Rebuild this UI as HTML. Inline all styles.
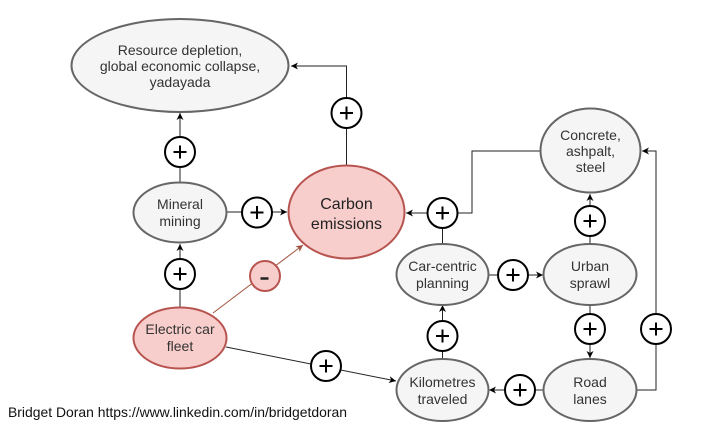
<!DOCTYPE html>
<html>
<head>
<meta charset="utf-8">
<style>
html,body{margin:0;padding:0;background:#fff;}
svg{display:block;}
text{font-family:"Liberation Sans",Arial,sans-serif;}
</style>
</head>
<body>
<svg width="721" height="425" viewBox="0 0 721 425" xmlns="http://www.w3.org/2000/svg">
<defs>
<marker id="ah" markerWidth="8" markerHeight="8" refX="7" refY="4" orient="auto" markerUnits="userSpaceOnUse">
<path d="M0,0.5 L7,4 L0,7.5 L2,4 Z" fill="#000"/>
</marker>
<marker id="ahr" markerWidth="8" markerHeight="8" refX="7" refY="4" orient="auto" markerUnits="userSpaceOnUse">
<path d="M0,0.5 L7,4 L0,7.5 L2,4 Z" fill="#a0523d"/>
</marker>
</defs>

<!-- connectors -->
<g fill="none" stroke="#222" stroke-width="1">
  <!-- carbon -> resource -->
  <polyline points="346.5,165 346.5,66 291,66" marker-end="url(#ah)"/>
  <!-- mineral -> resource -->
  <line x1="180" y1="182" x2="180" y2="113" marker-end="url(#ah)"/>
  <!-- mineral -> carbon -->
  <line x1="227" y1="212" x2="287" y2="212" marker-end="url(#ah)"/>
  <!-- electric -> mineral -->
  <line x1="180" y1="307" x2="180" y2="244" marker-end="url(#ah)"/>
  <!-- electric -> km -->
  <line x1="226" y1="347" x2="396" y2="381" marker-end="url(#ah)"/>
  <!-- concrete -> carbon -->
  <polyline points="540,151 472,151 472,213 406,213" marker-end="url(#ah)"/>
  <!-- car-centric -> (plus at 443,213) -->
  <line x1="442.5" y1="244" x2="442.5" y2="213"/>
  <!-- car-centric -> urban -->
  <line x1="489" y1="275" x2="543" y2="275" marker-end="url(#ah)"/>
  <!-- urban -> concrete -->
  <line x1="590" y1="243" x2="590" y2="194" marker-end="url(#ah)"/>
  <!-- urban -> road -->
  <line x1="590" y1="305" x2="590" y2="358" marker-end="url(#ah)"/>
  <!-- road -> concrete loop -->
  <polyline points="637,390 656,390 656,151 642,151" marker-end="url(#ah)"/>
  <!-- road -> km -->
  <line x1="543" y1="390" x2="489" y2="390" marker-end="url(#ah)"/>
  <!-- km -> car-centric -->
  <line x1="442.5" y1="359" x2="442.5" y2="305" marker-end="url(#ah)"/>
</g>
<!-- electric -> carbon (negative) -->
<line x1="213" y1="313" x2="303" y2="245" stroke="#a0523d" stroke-width="1" marker-end="url(#ahr)"/>

<!-- nodes -->
<g stroke-width="2">
  <ellipse cx="180" cy="65.5" rx="108.5" ry="46.5" fill="#f5f5f5" stroke="#666"/>
  <ellipse cx="180" cy="212.5" rx="46.5" ry="30" fill="#f5f5f5" stroke="#666"/>
  <ellipse cx="346.5" cy="212" rx="58" ry="46.5" fill="#f8cecc" stroke="#b85450"/>
  <ellipse cx="180" cy="338" rx="46.5" ry="30.5" fill="#f8cecc" stroke="#b85450"/>
  <ellipse cx="590.5" cy="150.5" rx="50" ry="42" fill="#f5f5f5" stroke="#666"/>
  <ellipse cx="442.5" cy="274.5" rx="46" ry="30.5" fill="#f5f5f5" stroke="#666"/>
  <ellipse cx="590" cy="274.5" rx="46.5" ry="30.5" fill="#f5f5f5" stroke="#666"/>
  <ellipse cx="442.5" cy="390" rx="46" ry="31" fill="#f5f5f5" stroke="#666"/>
  <ellipse cx="590" cy="390" rx="46.5" ry="31" fill="#f5f5f5" stroke="#666"/>
</g>

<!-- labels -->
<g fill="#333" font-size="14" text-anchor="middle">
  <text x="180" y="55">Resource depletion,</text>
  <text x="180" y="71">global economic collapse,</text>
  <text x="180" y="87">yadayada</text>
  <text x="180" y="209">Mineral</text>
  <text x="180" y="226">mining</text>
  <text x="180" y="334">Electric car</text>
  <text x="180" y="351">fleet</text>
  <text x="590.5" y="140">Concrete,</text>
  <text x="590.5" y="156">ashpalt,</text>
  <text x="590.5" y="172">steel</text>
  <text x="442.5" y="271">Car-centric</text>
  <text x="442.5" y="288">planning</text>
  <text x="590" y="271">Urban</text>
  <text x="590" y="288">sprawl</text>
  <text x="442.5" y="387">Kilometres</text>
  <text x="442.5" y="404">traveled</text>
  <text x="590" y="387">Road</text>
  <text x="590" y="404">lanes</text>
</g>
<g fill="#222" font-size="16" text-anchor="middle">
  <text x="346.5" y="209">Carbon</text>
  <text x="346.5" y="229">emissions</text>
</g>

<!-- plus circles -->
<g fill="#fff" stroke="#000" stroke-width="2">
  <circle cx="346.5" cy="113" r="15"/>
  <circle cx="180" cy="152" r="15"/>
  <circle cx="257" cy="212.5" r="15"/>
  <circle cx="180" cy="274" r="15"/>
  <circle cx="326" cy="366" r="15"/>
  <circle cx="442.5" cy="213" r="15"/>
  <circle cx="513" cy="275" r="15"/>
  <circle cx="590" cy="221" r="15"/>
  <circle cx="590" cy="329" r="15"/>
  <circle cx="656" cy="329" r="15"/>
  <circle cx="442.5" cy="336" r="15"/>
  <circle cx="520" cy="390" r="15"/>
</g>
<g stroke="#000" stroke-width="2" fill="none">
  <path d="M340,113h13M346.5,106.5v13"/>
  <path d="M173.5,152h13M180,145.5v13"/>
  <path d="M250.5,212.5h13M257,206v13"/>
  <path d="M173.5,274h13M180,267.5v13"/>
  <path d="M319.5,366h13M326,359.5v13"/>
  <path d="M436,213h13M442.5,206.5v13"/>
  <path d="M506.5,275h13M513,268.5v13"/>
  <path d="M583.5,221h13M590,214.5v13"/>
  <path d="M583.5,329h13M590,322.5v13"/>
  <path d="M649.5,329h13M656,322.5v13"/>
  <path d="M436,336h13M442.5,329.5v13"/>
  <path d="M513.5,390h13M520,383.5v13"/>
</g>

<!-- minus circle -->
<circle cx="265" cy="276" r="15" fill="#f8cecc" stroke="#b85450" stroke-width="2"/>
<line x1="260.5" y1="278.5" x2="268.5" y2="278.5" stroke="#222" stroke-width="2.5"/>

<!-- footer -->
<text x="8" y="417" font-size="14" fill="#111" textLength="339" lengthAdjust="spacingAndGlyphs">Bridget Doran https://www.linkedin.com/in/bridgetdoran</text>
</svg>
</body>
</html>
